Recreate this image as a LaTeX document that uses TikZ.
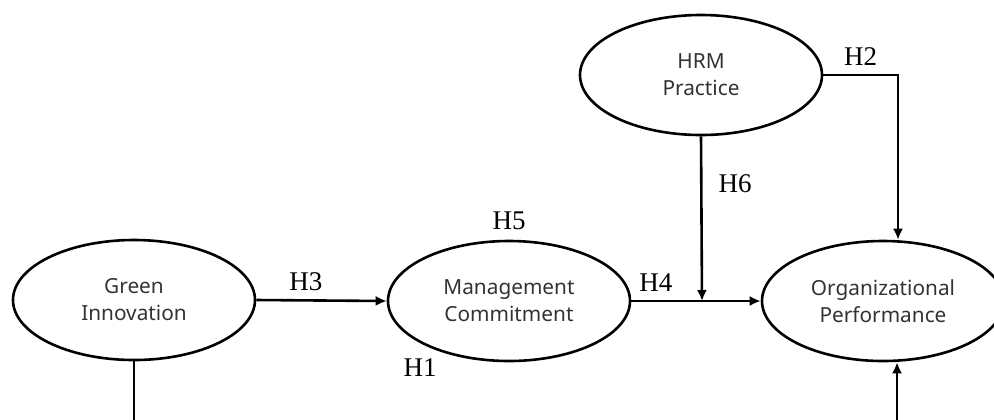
\documentclass[tikz,border=0pt]{standalone}
\usepackage{fontspec}
\setmainfont{Liberation Serif}
\newfontfamily\nodefont{Noto Sans}
\usetikzlibrary{shapes.geometric,arrows.meta,positioning}
\begin{document}
\begin{tikzpicture}[x=0.5pt,y=-0.5pt] % модель гипотез
\tikzstyle{construct} = [ellipse, draw, line width=1.3pt, inner sep=0pt, minimum width=121pt, minimum height=60pt, align=center, text=black!80, font=\nodefont\fontsize{10.4}{13.5}\selectfont] % latent construct style
\tikzstyle{hyp} = [line width=1.3pt, -{Latex[length=5.5pt,width=5pt]}] % hypothesis arrow style
\tikzstyle{hlabel} = [inner sep=2pt, font=\fontsize{13.5}{15}\selectfont] % hypothesis label style
\clip (0,0) rectangle (994,419); % picture is cut at the bottom and right
\node[construct] (gi) at (134,300) {Green\\Innovation};
\node[construct] (mc) at (509,301) {Management\\Commitment};
\node[construct] (op) at (883,301) {Organizational\\Performance};
\node[construct] (hrm) at (701,75) {HRM\\Practice};
\coordinate (jn) at (702,301); % H6 meets H4 here
\coordinate (gibot) at (134,425);
\coordinate (opbot) at (897,425);
\draw[hyp] (gi.east) -- node[hlabel, above=2pt, pos=0.38] {H3} (mc.west);
\draw[hyp] (mc.east) -- node[hlabel, above=2pt, pos=0.19] {H4} (op.west);
\draw[hyp] (hrm.south) -- node[hlabel, right=6pt, pos=0.29] {H6} (jn);
\draw[hyp] (hrm.east) -| node[hlabel, above=2pt, pos=0.25] {H2} ([xshift=7.5pt]op.north);
\draw[line width=1.3pt] (gi.south) -- (gibot);
\draw[hyp] (opbot) -- ([xshift=7pt]op.south);
\node[hlabel, above=3pt] (h5) at (mc.north) {H5};
\node[hlabel] (h1) at (420,368) {H1};
\end{tikzpicture}
\end{document}
